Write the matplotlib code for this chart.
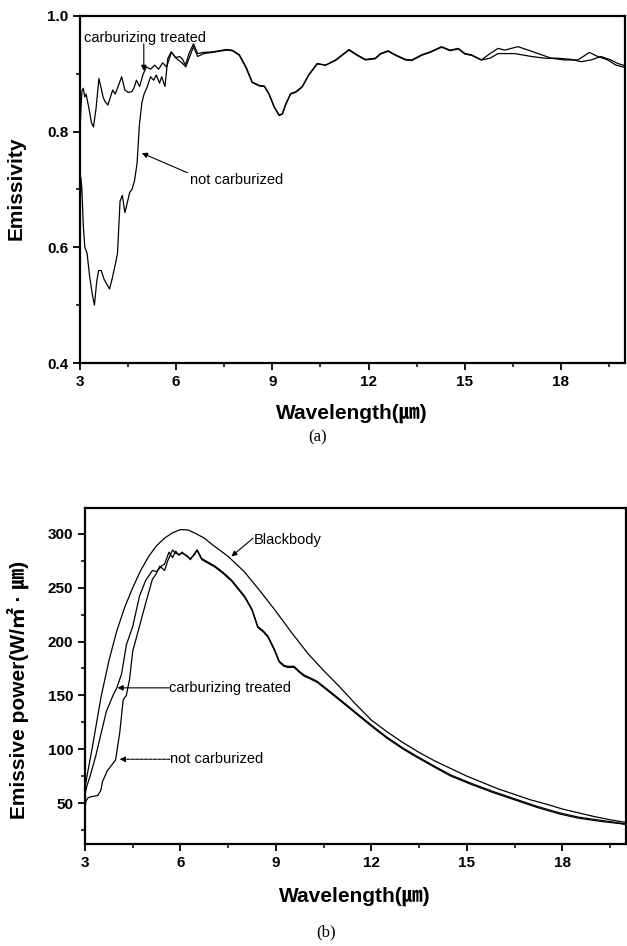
import numpy as np
import matplotlib
matplotlib.use("Agg")
import matplotlib.pyplot as plt
from matplotlib.ticker import MultipleLocator, FormatStrFormatter

# ---- (a) emissivity vs wavelength ----
wl_carb = [3.00, 3.03, 3.06, 3.10, 3.15, 3.19, 3.28, 3.36, 3.42, 3.50, 3.59, 3.66, 3.72, 3.78,
           3.87, 3.95, 4.02, 4.10, 4.20, 4.30, 4.40, 4.50, 4.61, 4.68, 4.76, 4.86, 4.96, 5.07,
           5.20, 5.33, 5.45, 5.58, 5.70, 5.85, 5.98, 6.11, 6.20, 6.29, 6.40, 6.54, 6.67, 6.85,
           7.13, 7.56, 7.75, 7.97, 8.18, 8.37, 8.59, 8.75, 8.90, 9.06, 9.21, 9.31, 9.42, 9.57,
           9.73, 9.93, 10.14, 10.40, 10.66, 10.97, 11.39, 11.64, 11.90, 12.21, 12.37, 12.61,
           12.84, 13.15, 13.35, 13.66, 13.92, 14.28, 14.54, 14.80, 15.01, 15.21, 15.52, 15.79,
           16.04, 16.56, 17.08, 17.50, 17.91, 18.32, 18.63, 18.94, 19.25, 19.56, 19.77, 20.00]
em_carb = [0.800, 0.840, 0.870, 0.875, 0.860, 0.865, 0.840, 0.815, 0.808, 0.840, 0.892, 0.875,
           0.860, 0.852, 0.846, 0.860, 0.872, 0.865, 0.880, 0.895, 0.872, 0.868, 0.869, 0.875,
           0.889, 0.878, 0.898, 0.912, 0.908, 0.915, 0.908, 0.919, 0.912, 0.937, 0.928, 0.930,
           0.925, 0.915, 0.935, 0.952, 0.935, 0.937, 0.938, 0.942, 0.941, 0.933, 0.912, 0.886,
           0.880, 0.879, 0.865, 0.843, 0.829, 0.831, 0.848, 0.866, 0.869, 0.878, 0.899, 0.918,
           0.915, 0.924, 0.942, 0.933, 0.925, 0.927, 0.935, 0.940, 0.933, 0.925, 0.924, 0.933,
           0.938, 0.947, 0.941, 0.944, 0.935, 0.933, 0.924, 0.927, 0.935, 0.935, 0.930, 0.927,
           0.927, 0.925, 0.921, 0.924, 0.930, 0.924, 0.918, 0.914]

wl_raw = [3.00, 3.03, 3.06, 3.10, 3.15, 3.22, 3.30, 3.38, 3.45, 3.52, 3.58, 3.66, 3.75, 3.85,
          3.92, 4.00, 4.10, 4.17, 4.25, 4.32, 4.40, 4.47, 4.55, 4.62, 4.70, 4.78, 4.85, 4.93,
          5.00, 5.10, 5.20, 5.30, 5.38, 5.48, 5.55, 5.65, 5.74, 5.85, 6.00, 6.20, 6.30, 6.54,
          6.67, 6.85, 7.13, 7.56, 7.75, 7.97, 8.18, 8.37, 8.59, 8.75, 8.90, 9.06, 9.21, 9.31,
          9.42, 9.57, 9.73, 9.93, 10.14, 10.40, 10.66, 10.97, 11.39, 11.64, 11.90, 12.21, 12.37,
          12.61, 12.84, 13.15, 13.35, 13.66, 13.92, 14.28, 14.54, 14.80, 15.01, 15.21, 15.52,
          15.79, 16.04, 16.25, 16.66, 16.98, 17.29, 17.70, 18.11, 18.53, 18.89, 19.15, 19.46,
          19.72, 20.00]
em_raw = [0.660, 0.720, 0.700, 0.640, 0.600, 0.590, 0.550, 0.520, 0.500, 0.540, 0.560, 0.560,
          0.545, 0.535, 0.528, 0.545, 0.570, 0.590, 0.680, 0.690, 0.660, 0.676, 0.695, 0.700,
          0.715, 0.745, 0.810, 0.850, 0.865, 0.878, 0.895, 0.889, 0.898, 0.884, 0.895, 0.878,
          0.927, 0.938, 0.927, 0.918, 0.912, 0.947, 0.930, 0.935, 0.937, 0.941, 0.940, 0.932,
          0.910, 0.885, 0.879, 0.878, 0.864, 0.842, 0.828, 0.830, 0.847, 0.865, 0.868, 0.877,
          0.898, 0.917, 0.915, 0.923, 0.941, 0.932, 0.924, 0.926, 0.934, 0.939, 0.932, 0.924,
          0.923, 0.932, 0.937, 0.946, 0.940, 0.943, 0.934, 0.932, 0.924, 0.935, 0.944, 0.941,
          0.947, 0.941, 0.935, 0.927, 0.924, 0.924, 0.937, 0.930, 0.924, 0.915, 0.911]

# ---- (b) emissive power vs wavelength ----
wl_bb = [3.0, 3.25, 3.5, 3.75, 4.0, 4.25, 4.5, 4.75, 5.0, 5.25, 5.5, 5.75, 6.0, 6.25, 6.5,
         6.75, 7.0, 7.5, 8.0, 8.5, 9.0, 9.5, 10.0, 10.5, 11.0, 11.5, 12.0, 12.5, 13.0, 13.5,
         14.0, 14.5, 15.0, 15.5, 16.0, 16.5, 17.0, 17.5, 18.0, 18.5, 19.0, 19.5, 20.0]
p_bb = [65, 105, 148, 182, 210, 232, 250, 266, 279, 289, 296, 301, 304, 303.5, 300, 296, 290,
        279, 265, 247, 228, 208, 189, 173, 158, 142, 127, 116, 106, 97, 89, 82, 75, 69, 63,
        58, 53, 49, 44.5, 41, 37.5, 34.5, 32]

wl_carb_b = [3.0, 3.05, 3.16, 3.34, 3.5, 3.67, 3.88, 4.0, 4.15, 4.3, 4.5, 4.71, 4.91, 5.12,
             5.25, 5.4, 5.5, 5.64, 5.75, 5.85, 5.95, 6.05, 6.2, 6.31, 6.45, 6.52, 6.6, 6.67,
             6.85, 7.09, 7.35, 7.61, 8.02, 8.25, 8.43, 8.6, 8.75, 8.95, 9.1, 9.25, 9.37, 9.57,
             9.75, 9.88, 10.1, 10.3, 10.6, 11.23, 11.6, 12.06, 12.5, 13.0, 13.4, 14.0, 14.5,
             15.08, 15.8, 16.5, 17.2, 17.9, 18.5, 19.2, 19.8, 20.0]
p_carb = [58, 65, 75, 94, 114, 135, 150, 157, 170, 197, 214, 242, 257, 266, 265, 270, 272,
          283, 278, 284, 280, 283, 279, 277, 281, 285, 281, 277, 274, 270, 264, 257, 242, 230,
          214, 210, 205, 193, 182, 178, 177, 177, 172, 169, 166, 163, 156, 141, 132, 121, 111,
          101, 94, 84, 76, 69, 61, 54, 47, 41, 37, 34, 31.5, 30.5]

wl_raw_b = [3.0, 3.03, 3.1, 3.2, 3.4, 3.5, 3.55, 3.7, 3.96, 4.09, 4.2, 4.3, 4.4, 4.5, 4.71,
            4.91, 5.12, 5.22, 5.35, 5.5, 5.6, 5.75, 5.85, 5.95, 6.05, 6.2, 6.31, 6.45, 6.52,
            6.6, 6.67, 6.85, 7.09, 7.35, 7.61, 8.02, 8.25, 8.43, 8.6, 8.75, 8.95, 9.1, 9.25,
            9.37, 9.57, 9.75, 9.88, 10.1, 10.3, 10.6, 11.23, 11.6, 12.06, 12.5, 13.0, 13.4,
            14.0, 14.5, 15.08, 15.8, 16.5, 17.2, 17.9, 18.5, 19.2, 19.8, 20.0]
p_raw = [45, 52, 55, 56, 57, 62, 70, 80, 90, 115, 146, 150, 165, 191, 214, 236, 258, 262, 270,
         266, 275, 285, 282, 281, 282, 280, 276, 282, 285, 280, 276, 273, 269, 263, 256, 241,
         229, 213, 209, 204, 192, 181, 177, 176, 176, 171, 168, 165, 162, 155, 140, 131, 120,
         110, 100, 93, 83, 75, 68, 60, 53, 46, 40, 36, 33, 31, 30]

plt.rcParams["font.family"] = ["Liberation Sans", "Noto Sans CJK KR", "DejaVu Sans"]
plt.rcParams["font.weight"] = "bold"

fig = plt.figure(figsize=(6.27, 9.46), dpi=100)
ax1 = fig.add_axes([80 / 627, 1 - 363 / 946, 545 / 627, 347 / 946])
ax2 = fig.add_axes([85 / 627, 1 - 844 / 946, 541 / 627, 336 / 946])

ax1.plot(wl_carb, em_carb, color="black", lw=0.9)
ax1.plot(wl_raw, em_raw, color="black", lw=0.9)
ax2.plot(wl_bb, p_bb, color="black", lw=0.9)
ax2.plot(wl_carb_b, p_carb, color="black", lw=0.9)
ax2.plot(wl_raw_b, p_raw, color="black", lw=0.9)

ax1.set_xlim(3, 20)
ax1.set_ylim(0.4, 1.0)
ax1.yaxis.set_major_locator(MultipleLocator(0.2))
ax1.yaxis.set_minor_locator(MultipleLocator(0.1))
ax1.yaxis.set_major_formatter(FormatStrFormatter("%.1f"))
ax2.set_xlim(3, 20)
ax2.set_ylim(12, 324)
ax2.yaxis.set_major_locator(MultipleLocator(50))
ax2.yaxis.set_minor_locator(MultipleLocator(25))

for ax in (ax1, ax2):
    ax.xaxis.set_major_locator(MultipleLocator(3))
    ax.xaxis.set_minor_locator(MultipleLocator(1.5))
    for s in ax.spines.values():
        s.set_linewidth(1.6)
    ax.tick_params(which="major", direction="out", length=5, width=1.3, labelsize=11)
    ax.tick_params(which="minor", direction="out", length=3, width=1.1)
    for lab in ax.get_xticklabels() + ax.get_yticklabels():
        lab.set_fontweight("bold")

lab_kw = dict(fontsize=15, fontweight="bold")
fig.text(16 / 627, 1 - 188 / 946, "Emissivity", rotation=90, ha="center", va="center", **lab_kw)
fig.text(352 / 627, 1 - 413 / 946, "Wavelength(\u339b)", ha="center", va="center", **lab_kw)
fig.text(18 / 627, 1 - 690 / 946, "Emissive power(W/\u33a1 \u00b7 \u339b)", rotation=90,
         ha="center", va="center", **lab_kw)
fig.text(355 / 627, 1 - 896 / 946, "Wavelength(\u339b)", ha="center", va="center", **lab_kw)

cap_kw = dict(fontsize=12, fontweight="normal", family="Liberation Serif", ha="center", va="center")
fig.text(318 / 627, 1 - 437 / 946, "(a)", **cap_kw)
fig.text(326 / 627, 1 - 932 / 946, "(b)", **cap_kw)

arr = dict(arrowstyle="-|>", lw=0.8, color="black", mutation_scale=8, shrinkA=0, shrinkB=0)
txt_kw = dict(fontsize=10.5, fontweight="normal", va="center", ha="left")

ax1.text(3.12, 0.962, "carburizing treated", **txt_kw)
ax1.annotate("", xy=(4.99, 0.905), xytext=(4.99, 0.952), arrowprops=arr)
ax1.text(6.42, 0.716, "not carburized", **txt_kw)
ax1.annotate("", xy=(4.93, 0.763), xytext=(6.35, 0.729), arrowprops=arr)

ax2.text(8.31, 294, "Blackbody", **txt_kw)
ax2.annotate("", xy=(7.6, 279), xytext=(8.28, 296), arrowprops=arr)
ax2.text(5.64, 157, "carburizing treated", **txt_kw)
ax2.annotate("", xy=(4.02, 157), xytext=(5.64, 157), arrowprops=arr)
ax2.text(5.67, 90.7, "not carburized", **txt_kw)
ax2.annotate("", xy=(4.09, 90.7), xytext=(5.67, 90.7),
             arrowprops=dict(arr, linestyle=(0, (3, 1))))

fig.savefig("out.png", dpi=100)
